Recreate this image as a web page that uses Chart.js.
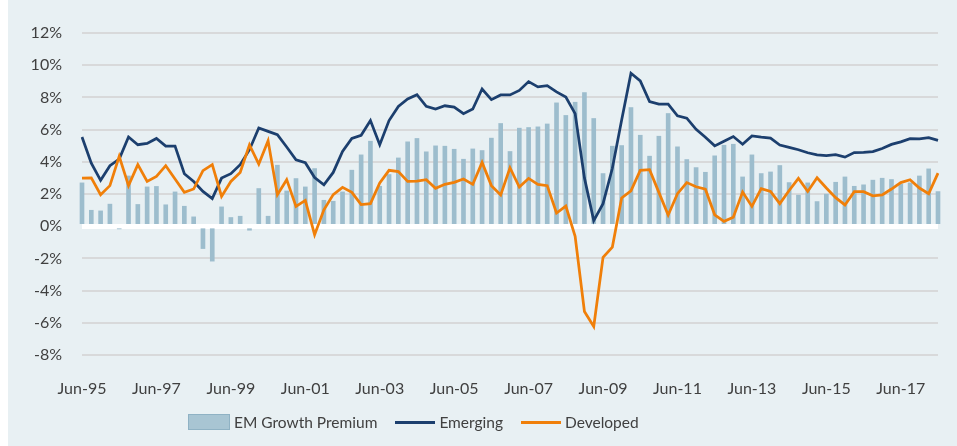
<!DOCTYPE html>
<html>
<head>
<meta charset="utf-8">
<title>EM Growth Premium</title>
<script src="https://cdn.jsdelivr.net/npm/chart.js@4.4.1/dist/chart.umd.min.js"></script>
<style>
    body { margin: 0; background: #ffffff; }
    #wrap { position: absolute; left: 8px; top: 0; width: 949px; height: 446px; background: #e8f0f3; }
    #legend { position: absolute; left: 180px; top: 413px; display: flex; align-items: center;
              font: 15.5px Lato, sans-serif; color: #404040; white-space: nowrap; }
    .item { display: flex; align-items: center; margin-right: 18px; }
    .swatch { margin-right: 4px; box-sizing: border-box; }
</style>
</head>
<body>
<div id="wrap">
    <canvas id="growthChart" width="949" height="446"></canvas>
    <div id="legend"></div>
</div>
<script>
// Real GDP growth, y/y %, quarterly from Jun-95 to Jun-18
const emerging = [
    5.54, 3.92, 2.85, 3.76, 4.17, 5.54, 5.06, 5.14, 5.45, 4.98,
    4.98, 3.26, 2.78, 2.16, 1.71, 2.99, 3.26, 3.82, 4.75, 6.10,
    5.89, 5.68, 4.92, 4.13, 3.94, 3.02, 2.57, 3.34, 4.65, 5.45,
    5.65, 6.56, 5.06, 6.56, 7.44, 7.90, 8.17, 7.44, 7.28, 7.48,
    7.40, 6.99, 7.28, 8.52, 7.86, 8.15, 8.15, 8.43, 8.98, 8.65,
    8.73, 8.34, 8.02, 6.99, 3.00, 0.35, 1.40, 3.60, 6.60, 9.50,
    9.03, 7.74, 7.58, 7.58, 6.86, 6.71, 6.02, 5.53, 4.99, 5.28,
    5.57, 5.09, 5.61, 5.53, 5.47, 5.04, 4.90, 4.75, 4.56, 4.43,
    4.38, 4.44, 4.29, 4.57, 4.59, 4.63, 4.83, 5.08, 5.24, 5.44,
    5.42, 5.50, 5.33
];

const developed = [
    2.99, 3.00, 1.96, 2.52, 4.34, 2.52, 3.82, 2.78, 3.09, 3.76,
    2.93, 2.10, 2.31, 3.45, 3.82, 1.85, 2.78, 3.34, 5.05, 3.86,
    5.31, 1.96, 2.89, 1.23, 1.60, -0.53, 1.02, 1.96, 2.41, 2.10,
    1.34, 1.40, 2.68, 3.47, 3.39, 2.78, 2.80, 2.89, 2.35, 2.60,
    2.72, 2.93, 2.60, 3.96, 2.52, 1.94, 3.63, 2.43, 2.97, 2.60,
    2.52, 0.82, 1.25, -0.63, -5.30, -6.23, -1.94, -1.30, 1.75, 2.20,
    3.47, 3.51, 2.10, 0.70, 2.02, 2.71, 2.45, 2.30, 0.71, 0.30,
    0.55, 2.12, 1.23, 2.33, 2.16, 1.40, 2.22, 2.97, 2.16, 3.01,
    2.37, 1.77, 1.32, 2.14, 2.14, 1.89, 1.94, 2.31, 2.71, 2.89,
    2.37, 2.02, 3.30
];

const premium = [
    2.69, 0.99, 0.95, 1.37, -0.17, 3.12, 1.35, 2.44, 2.47, 1.33,
    2.13, 1.24, 0.58, -1.39, -2.17, 1.20, 0.54, 0.62, -0.25, 2.34,
    0.62, 3.79, 2.19, 2.96, 2.44, 3.58, 1.61, 1.55, 2.13, 3.48,
    4.43, 5.28, 2.48, 3.21, 4.24, 5.24, 5.45, 4.62, 4.99, 4.97,
    4.78, 4.16, 4.80, 4.70, 5.47, 6.38, 4.64, 6.09, 6.13, 6.17,
    6.35, 7.66, 6.88, 7.70, 8.30, 6.69, 3.27, 4.97, 5.01, 7.37,
    5.65, 4.35, 5.59, 7.00, 4.93, 4.14, 3.64, 3.35, 4.37, 5.03,
    5.09, 3.06, 4.43, 3.27, 3.37, 3.77, 2.71, 1.93, 2.69, 1.53,
    1.99, 2.73, 3.06, 2.48, 2.57, 2.86, 2.98, 2.90, 2.61, 2.69,
    3.12, 3.56, 2.15
];

// Quarter labels, Jun-95 onwards; every 8th one is shown on the axis
const monthNames = ['Mar', 'Jun', 'Sep', 'Dec'];
const quarters = emerging.map((v, i) => {
    const q = i + 1;
    const year = 1995 + Math.floor(q / 4);
    return monthNames[q % 4] + '-' + String(year).slice(2);
});
const labelEvery = 8;

Chart.defaults.font.family = 'Lato, sans-serif';
Chart.defaults.font.size = 16;
Chart.defaults.color = '#404040';

const ctx = document.getElementById('growthChart');

const chart = new Chart(ctx, {
    type: 'bar',
    data: {
        labels: quarters,
        datasets: [
            {
                type: 'line',
                label: 'Developed',
                data: developed,
                borderColor: '#f07f09',
                borderWidth: 2.75,
                pointRadius: 0,
                tension: 0,
                order: 0
            },
            {
                type: 'line',
                label: 'Emerging',
                data: emerging,
                borderColor: '#1c3f6e',
                borderWidth: 2.75,
                pointRadius: 0,
                tension: 0,
                order: 1
            },
            {
                type: 'bar',
                label: 'EM Growth Premium',
                data: premium,
                backgroundColor: '#9dbdcd',
                borderWidth: 0,
                barThickness: 4,
                clip: false,
                order: 2
            }
        ]
    },
    options: {
        responsive: false,
        animation: false,
        layout: {
            padding: { left: 0, right: 19, top: 33, bottom: 0 }
        },
        plugins: {
            legend: { display: false },
            tooltip: { enabled: false }
        },
        scales: {
            x: {
                offset: false,
                grid: { display: false },
                border: { display: false },
                ticks: {
                    autoSkip: false,
                    maxRotation: 0,
                    padding: 16,
                    callback: function (value, index) {
                        return index % labelEvery === 0 ? this.getLabelForValue(value) : '';
                    }
                },
                afterFit: (scale) => { scale.height = 91; }
            },
            y: {
                min: -8,
                max: 12,
                border: { display: false },
                grid: {
                    drawTicks: false,
                    color: (c) => c.tick && c.tick.value === 0 ? '#ffffff' : '#d8d9da',
                    lineWidth: (c) => c.tick && c.tick.value === 0 ? 5 : 2
                },
                ticks: {
                    stepSize: 2,
                    padding: 20,
                    callback: (v) => v + '%'
                },
                afterFit: (scale) => { scale.width = 74; }
            }
        }
    }
});

// HTML legend built from the datasets, in the original order
function buildLegend(chart) {
    const box = document.getElementById('legend');
    const order = ['EM Growth Premium', 'Emerging', 'Developed'];
    order.forEach(name => {
        const ds = chart.data.datasets.find(d => d.label === name);
        const item = document.createElement('div');
        item.className = 'item';
        const sw = document.createElement('span');
        sw.className = 'swatch';
        if (ds.type === 'bar') {
            sw.style.width = '42px';
            sw.style.height = '16px';
            sw.style.background = '#a8c5d3';
            sw.style.border = '1px solid #8fb2c4';
        } else {
            sw.style.width = '40px';
            sw.style.height = '3px';
            sw.style.background = ds.borderColor;
        }
        const txt = document.createElement('span');
        txt.textContent = ds.label;
        item.appendChild(sw);
        item.appendChild(txt);
        box.appendChild(item);
    });
}

buildLegend(chart);
</script>
</body>
</html>
